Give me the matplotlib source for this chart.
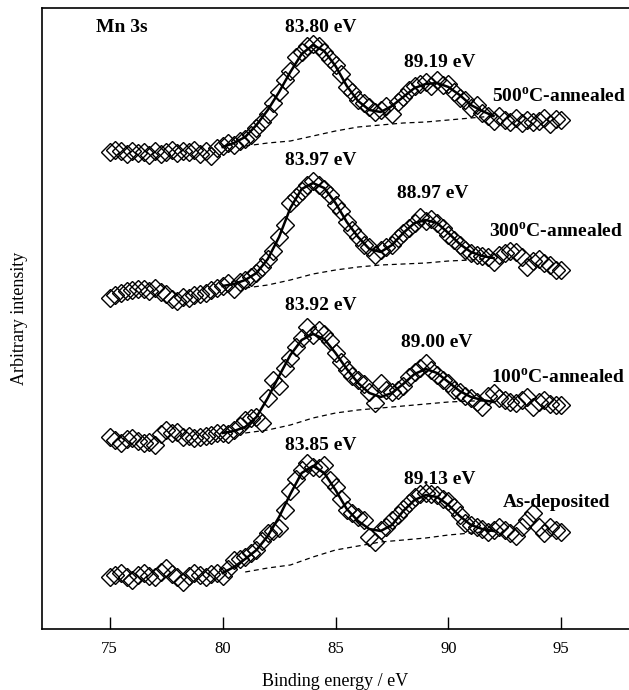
import numpy as np
import matplotlib.pyplot as plt

plt.rcParams['font.family'] = ['Liberation Serif', 'DejaVu Serif']
plt.rcParams['mathtext.fontset'] = 'custom'
plt.rcParams['mathtext.rm'] = 'Liberation Serif'
plt.rcParams['mathtext.bf'] = 'Liberation Serif:bold'

# binding energy grids (eV)
energy = np.arange(75.0, 95.001, 0.25)
fit_energy = np.arange(80.0, 92.001, 0.5)
bg_energy = np.arange(81.0, 92.001, 1.0)

samples = ['As-deposited', '100$^{\\mathbf{o}}$C-annealed',
           '300$^{\\mathbf{o}}$C-annealed', '500$^{\\mathbf{o}}$C-annealed']
offsets = [52, 191, 334, 477]
peak1_labels = ['83.85 eV', '83.92 eV', '83.97 eV', '83.80 eV']
peak2_labels = ['89.13 eV', '89.00 eV', '88.97 eV', '89.19 eV']

# measured points (arbitrary units, relative to each spectrum's baseline)
asdep_pts = [0, 2, 4, 0, -3, 2, 4, 1, 0, 5, 9, 3, 0, -5, 1, 4, 2, 0, 3, 4,
             1, 8, 17, 18, 20, 24, 27, 36, 44, 46, 49, 67, 86, 98, 107, 114,
             110, 109, 112, 97, 90, 78, 67, 64, 60, 57, 40, 35, 47, 50, 57, 62,
             68, 74, 80, 83, 84, 83, 82, 78, 76, 70, 62, 54, 52, 50, 48, 45,
             47, 50, 47, 44, 41, 50, 57, 64, 50, 44, 50, 47, 45]
t100_pts = [1, -2, -5, -1, 0, -3, -5, -4, -7, 4, 8, 5, 6, 1, 2, 0, 1, 2, 3, 5,
            5, 4, 8, 12, 18, 20, 21, 15, 40, 58, 52, 70, 80, 91, 100, 111,
            103, 108, 104, 97, 85, 76, 68, 62, 58, 54, 46, 35, 55, 48, 46, 48,
            52, 61, 66, 70, 75, 68, 63, 58, 55, 48, 46, 42, 40, 36, 31, 42,
            45, 40, 38, 36, 35, 38, 41, 31, 36, 38, 34, 33, 33]
t300_pts = [-3, 0, 2, 4, 5, 6, 6, 4, 7, 3, 1, -4, -6, -2, -3, 0, 1, 2, 5, 7,
            9, 12, 6, 13, 15, 18, 22, 28, 36, 44, 58, 70, 92, 98, 104, 110,
            114, 110, 106, 100, 90, 84, 73, 65, 58, 50, 48, 40, 45, 48, 50, 57,
            62, 67, 72, 78, 74, 76, 72, 67, 60, 55, 50, 45, 42, 40, 39, 38,
            33, 40, 42, 44, 43, 38, 28, 34, 36, 32, 30, 25, 25]
t500_pts = [0, 2, 1, -2, 1, -1, 0, -3, 1, -2, 0, 2, -1, 1, 0, 2, -2, 1, -4, 4,
            6, 9, 7, 11, 13, 17, 24, 30, 38, 49, 60, 72, 81, 95, 100, 106,
            108, 106, 100, 93, 87, 78, 65, 60, 52, 49, 45, 40, 42, 46, 38, 50,
            55, 62, 66, 68, 70, 66, 72, 67, 68, 60, 54, 52, 44, 47, 39, 36,
            31, 36, 32, 30, 34, 29, 32, 30, 31, 34, 28, 33, 32]

# fitted envelopes
asdep_fit = [4, 10, 18, 27, 41, 60, 83, 104, 111, 104, 87, 68, 56, 48, 46,
             52, 66, 77, 82, 80, 72, 61, 52, 48, 46]
t100_fit = [5, 7, 11, 21, 40, 62, 83, 98, 104, 99, 85, 69, 55, 45, 41,
            45, 54, 64, 69, 65, 56, 47, 41, 38, 36]
t300_fit = [9, 11, 15, 22, 36, 58, 87, 106, 112, 107, 92, 73, 58, 46, 43,
            50, 62, 72, 75, 72, 62, 51, 43, 39, 37]
t500_fit = [5, 9, 15, 27, 42, 60, 80, 98, 107, 101, 86, 66, 51, 42, 40,
            46, 55, 64, 68, 69, 65, 57, 47, 41, 36]

# Shirley backgrounds
asdep_bg = [5, 9, 12, 20, 27, 31, 35, 37, 39, 42, 44, 46]
t100_bg = [5, 8, 13, 20, 25, 28, 30, 32, 34, 36, 37, 37]
t300_bg = [7, 10, 15, 21, 25, 28, 30, 31, 32, 34, 35, 37]
t500_bg = [6, 9, 11, 16, 21, 25, 27, 29, 30, 32, 34, 36]

pts_all = [asdep_pts, t100_pts, t300_pts, t500_pts]
fit_all = [asdep_fit, t100_fit, t300_fit, t500_fit]
bg_all = [asdep_bg, t100_bg, t300_bg, t500_bg]

# label positions (x, y) in data units
p1_pos = [(84.34, 184), (84.34, 324), (84.34, 469), (84.34, 602)]
p2_pos = [(89.6, 150), (89.47, 287), (89.3, 436), (89.6, 567)]
name_pos = [(92.4, 127), (91.9, 251), (91.8, 397), (91.95, 532)]

fig = plt.figure(figsize=(6.29, 6.90), dpi=100)
ax = fig.add_axes([0.0668, 0.0884, 0.9332, 0.9])

for i in range(4):
    off = offsets[i]
    ax.plot(energy, np.array(pts_all[i]) + off, linestyle='None', marker='D',
            markersize=9, mfc='none', mec='black', mew=1.0, zorder=2)
    ax.plot(bg_energy, np.array(bg_all[i]) + off, color='black',
            linestyle=(0, (4, 3)), linewidth=0.9, zorder=3)
    ax.plot(fit_energy, np.array(fit_all[i]) + off, color='black',
            linewidth=1.8, zorder=4)
    ax.text(p1_pos[i][0], p1_pos[i][1], peak1_labels[i], ha='center',
            va='center', fontsize=14, fontweight='bold')
    ax.text(p2_pos[i][0], p2_pos[i][1], peak2_labels[i], ha='center',
            va='center', fontsize=14, fontweight='bold')
    ax.text(name_pos[i][0], name_pos[i][1], samples[i], ha='left',
            va='center', fontsize=14, fontweight='bold')

ax.text(74.4, 602, 'Mn 3s', ha='left', va='center', fontsize=14,
        fontweight='bold')

ax.set_xlim(72, 98)
ax.set_ylim(0, 621)
ax.set_xticks([75, 80, 85, 90, 95])
ax.set_yticks([])
ax.tick_params(axis='x', direction='in', length=9, width=1, labelsize=12,
               pad=8.5)
ax.spines['right'].set_visible(False)
for s in ['left', 'bottom', 'top']:
    ax.spines[s].set_linewidth(1.2)
ax.set_xlabel('Binding energy / eV', fontsize=13, labelpad=12)
ax.set_ylabel('Arbitrary intensity', fontsize=13, labelpad=10)

fig.savefig('out.png', dpi=100)
